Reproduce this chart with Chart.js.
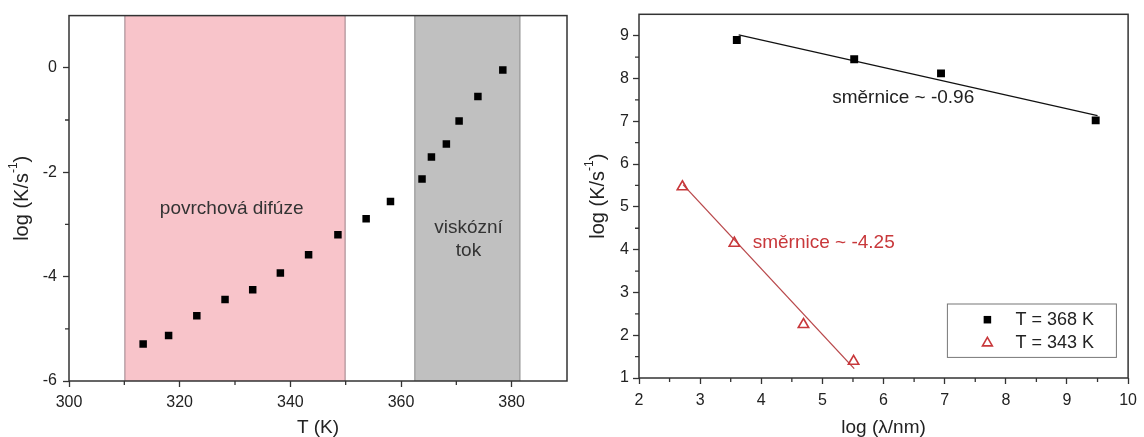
<!DOCTYPE html>
<html>
<head>
<meta charset="utf-8">
<script src="https://cdn.jsdelivr.net/npm/chart.js@4"></script>
<style>
  body { margin: 0; background: #fff; }
  #c1 { position: absolute; left: 0; top: 0; }
  #c2 { position: absolute; left: 580px; top: 0; }
</style>
</head>
<body>
<canvas id="c1" width="580" height="437"></canvas>
<canvas id="c2" width="564" height="437"></canvas>
<script>
// left panel: rate vs temperature
var tempK   = [313.4, 318.0, 323.1, 328.2, 333.2, 338.2, 343.3, 348.6, 353.7, 358.1, 363.8, 365.5, 368.2, 370.5, 373.9, 378.4];
var logRate = [-5.29, -5.13, -4.75, -4.44, -4.25, -3.93, -3.58, -3.20, -2.89, -2.56, -2.13, -1.71, -1.46, -1.02, -0.55, -0.04];
var regionNames = [['povrchová difúze'], ['viskózní', 'tok']];
var regionFrom  = [310.1, 362.5];
var regionTo    = [349.9, 381.5];
var regionTextX = [329.4, 372.2];
var regionTextY = [-2.71, -3.07];

// right panel: rate vs wavelength
var seriesNames = ['T = 368 K', 'T = 343 K'];
var lambda368 = [3.60, 5.52, 6.94, 9.47];
var rate368   = [8.90, 8.45, 8.12, 7.02];
var fit368X   = [3.63, 9.50];
var fit368Y   = [9.02, 7.13];
var lambda343 = [2.71, 3.56, 4.69, 5.51];
var rate343   = [5.47, 4.15, 2.25, 1.39];
var fit343X   = [2.72, 5.52];
var fit343Y   = [5.52, 1.22];
var slopeText = ['směrnice ~ -0.96', 'směrnice ~ -4.25'];
var slopeX    = [5.16, 3.86];
var slopeY    = [7.56, 4.15];

// ticks
var ticksT = [300, 320, 340, 360, 380];
var minorT = [310, 330, 350, 370];
var ticksLeftY = [-6, -4, -2, 0];
var minorLeftY = [-5, -3, -1];
var ticksLambda = [2, 3, 4, 5, 6, 7, 8, 9, 10];
var minorLambda = [2.5, 3.5, 4.5, 5.5, 6.5, 7.5, 8.5, 9.5];
var ticksRightY = [1, 2, 3, 4, 5, 6, 7, 8, 9];
var minorRightY = [1.5, 2.5, 3.5, 4.5, 5.5, 6.5, 7.5, 8.5];

var FONT = 'Liberation Sans, Arial, sans-serif';
var RED = '#c8383b';

function pts(xs, ys) {
  return xs.map(function (x, i) { return { x: x, y: ys[i] }; });
}

function axis(min, max, ticks, title, size, pad) {
  return {
    type: 'linear', min: min, max: max,
    afterBuildTicks: function (s) { s.ticks = ticks.map(function (v) { return { value: v }; }); },
    afterFit: function (s) { if (s.isHorizontal()) s.height = size; else s.width = size; },
    grid: { drawOnChartArea: false, drawTicks: true, tickLength: 6, tickColor: '#333', tickWidth: 1.3 },
    border: { display: false },
    ticks: { color: '#222', font: { family: FONT, size: 16 }, padding: pad, maxRotation: 0, autoSkip: false },
    title: { display: !!title, text: title || '', color: '#222', font: { family: FONT, size: 19, lineHeight: 1 }, padding: 0 }
  };
}

var decor = {
  id: 'decor',
  beforeDatasetsDraw: function (chart, args, o) {
    var ctx = chart.ctx, a = chart.chartArea, xs = chart.scales.x, ys = chart.scales.y;
    ctx.save();
    (o.regions || []).forEach(function (r) {
      var x0 = xs.getPixelForValue(r.from), x1 = xs.getPixelForValue(r.to);
      ctx.fillStyle = r.fill;
      ctx.fillRect(x0, a.top, x1 - x0, a.bottom - a.top);
      ctx.strokeStyle = r.edge;
      ctx.lineWidth = 1;
      ctx.beginPath();
      ctx.moveTo(x0, a.top); ctx.lineTo(x0, a.bottom);
      ctx.moveTo(x1, a.top); ctx.lineTo(x1, a.bottom);
      ctx.stroke();
      ctx.fillStyle = '#333';
      ctx.font = '19px ' + FONT;
      ctx.textAlign = 'center';
      ctx.textBaseline = 'middle';
      r.lines.forEach(function (t, k) {
        ctx.fillText(t, xs.getPixelForValue(r.tx), ys.getPixelForValue(r.ty) + k * 23);
      });
    });
    (o.notes || []).forEach(function (n) {
      ctx.fillStyle = n.color;
      ctx.font = '19px ' + FONT;
      ctx.textAlign = 'left';
      ctx.textBaseline = 'middle';
      ctx.fillText(n.text, xs.getPixelForValue(n.x), ys.getPixelForValue(n.y));
    });
    ctx.restore();
  },
  afterDraw: function (chart, args, o) {
    var ctx = chart.ctx, a = chart.chartArea, xs = chart.scales.x, ys = chart.scales.y;
    ctx.save();
    // frame
    ctx.strokeStyle = '#333';
    ctx.lineWidth = 1.5;
    ctx.strokeRect(a.left, a.top, a.right - a.left, a.bottom - a.top);
    // minor ticks
    ctx.lineWidth = 1.3;
    ctx.beginPath();
    o.minorX.forEach(function (v) {
      var p = xs.getPixelForValue(v);
      ctx.moveTo(p, a.bottom); ctx.lineTo(p, a.bottom + 4);
    });
    o.minorY.forEach(function (v) {
      var p = ys.getPixelForValue(v);
      ctx.moveTo(a.left, p); ctx.lineTo(a.left - 4, p);
    });
    ctx.stroke();
    // y title with superscript
    ctx.translate(o.yTitleX, (a.top + a.bottom) / 2);
    ctx.rotate(-Math.PI / 2);
    ctx.fillStyle = '#222';
    ctx.textBaseline = 'middle';
    ctx.textAlign = 'left';
    var big = '20px ' + FONT, small = '12px ' + FONT;
    ctx.font = big;
    var w1 = ctx.measureText('log (K/s').width, w3 = ctx.measureText(')').width;
    ctx.font = small;
    var w2 = ctx.measureText('-1').width;
    var x = -(w1 + w2 + w3) / 2;
    ctx.font = big; ctx.fillText('log (K/s', x, 0);
    ctx.font = small; ctx.fillText('-1', x + w1, -8);
    ctx.font = big; ctx.fillText(')', x + w1 + w2, 0);
    ctx.restore();
    // legend
    if (o.legend) {
      ctx.save();
      var bx = a.right - 11.7 - 169, by = a.bottom - 20.6 - 53.4;
      ctx.fillStyle = '#fff';
      ctx.fillRect(bx, by, 169, 53.4);
      ctx.strokeStyle = '#777';
      ctx.lineWidth = 1;
      ctx.strokeRect(bx, by, 169, 53.4);
      var rows = chart.data.datasets.filter(function (d) { return !d.isFit; });
      rows.forEach(function (d, i) {
        var yy = by + 15.7 + i * 23.3;
        ctx.fillStyle = d.backgroundColor;
        ctx.strokeStyle = d.borderColor;
        ctx.lineWidth = d.borderWidth;
        Chart.helpers.drawPoint(ctx, { pointStyle: d.pointStyle, radius: d.pointRadius * 0.95, rotation: 0, borderWidth: d.borderWidth }, bx + 40, yy);
        ctx.fillStyle = '#222';
        ctx.font = '18px ' + FONT;
        ctx.textAlign = 'left';
        ctx.textBaseline = 'middle';
        ctx.fillText(d.label, bx + 68, yy);
      });
      ctx.restore();
    }
  }
};

new Chart(document.getElementById('c1'), {
  type: 'scatter',
  data: {
    datasets: [{
      label: 'log K',
      data: pts(tempK, logRate),
      pointStyle: 'rect', pointRadius: 5.3, pointHoverRadius: 5.3,
      backgroundColor: '#000', borderColor: '#000', borderWidth: 0
    }]
  },
  options: {
    responsive: false, animation: false, events: [],
    layout: { padding: { left: 0, top: 15, right: 13, bottom: 0 } },
    plugins: {
      legend: { display: false }, tooltip: { enabled: false },
      decor: {
        regions: regionNames.map(function (n, i) {
          return { lines: n, from: regionFrom[i], to: regionTo[i], tx: regionTextX[i], ty: regionTextY[i],
                   fill: i === 0 ? '#f8c4ca' : '#c0c0c0', edge: i === 0 ? '#9b8088' : '#888' };
        }),
        minorX: minorT, minorY: minorLeftY, yTitleX: 22
      }
    },
    scales: {
      x: axis(300, 390, ticksT, 'T (K)', 56, 6),
      y: axis(-6, 1, ticksLeftY, null, 69, 6)
    }
  },
  plugins: [decor]
});

new Chart(document.getElementById('c2'), {
  type: 'scatter',
  data: {
    datasets: [{
      label: seriesNames[0],
      data: pts(lambda368, rate368),
      pointStyle: 'rect', pointRadius: 5.6, pointHoverRadius: 5.6,
      backgroundColor: '#000', borderColor: '#000', borderWidth: 0, order: 0
    }, {
      label: seriesNames[1],
      data: pts(lambda343, rate343),
      pointStyle: 'triangle', pointRadius: 6, pointHoverRadius: 6,
      backgroundColor: 'rgba(0,0,0,0)', borderColor: RED, borderWidth: 1.6, order: 0
    }, {
      label: 'fit 368', isFit: true,
      data: pts(fit368X, fit368Y), showLine: true,
      borderColor: '#111', borderWidth: 1.2, pointRadius: 0, order: 1
    }, {
      label: 'fit 343', isFit: true,
      data: pts(fit343X, fit343Y), showLine: true,
      borderColor: '#b8474a', borderWidth: 1.3, pointRadius: 0, order: 1
    }]
  },
  options: {
    responsive: false, animation: false, events: [],
    layout: { padding: { left: 0, top: 14.3, right: 10, bottom: 0 } },
    plugins: {
      legend: { display: false }, tooltip: { enabled: false },
      decor: {
        notes: slopeText.map(function (t, i) {
          return { text: t, x: slopeX[i], y: slopeY[i], color: i === 0 ? '#222' : RED };
        }),
        minorX: minorLambda, minorY: minorRightY, yTitleX: 18, legend: true
      }
    },
    scales: {
      x: axis(2, 10, ticksLambda, 'log (λ/nm)', 59, 7),
      y: axis(1, 9.5, ticksRightY, null, 59, 4)
    }
  },
  plugins: [decor]
});
</script>
</body>
</html>
